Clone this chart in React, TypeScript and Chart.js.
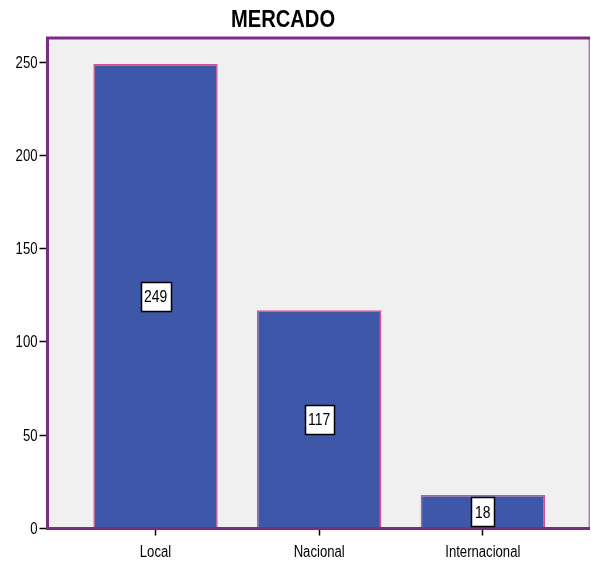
import React, { useEffect, useRef } from "react";
import { Chart, registerables } from "chart.js";

Chart.register(...registerables);

const categories = ["Local", "Nacional", "Internacional"];
const counts = [249, 117, 18];
const yTickValues = [0, 50, 100, 150, 200, 250];
const chartTitle = "MERCADO";

const FONT = '"Liberation Sans", Arial, sans-serif';
const NARROW = 0.82; // horizontal squeeze to get a narrow face
const BAR_FILL = "#3e57a8";
const BAR_EDGE = "#d4508e";
const FRAME = "#7d2a86";
const FRAME_RIGHT = "#b47dbd";
const PLOT_BG = "#f0f0f0";

function narrowText(ctx: CanvasRenderingContext2D, text: string, x: number, y: number, squeeze = NARROW) {
  ctx.save();
  ctx.translate(x, y);
  ctx.scale(squeeze, 1);
  ctx.fillText(text, 0, 0);
  ctx.restore();
}

// Plot background and the purple frame around it
const framePlugin = {
  id: "frame",
  beforeDatasetsDraw(chart: any) {
    const { ctx, chartArea: a } = chart;
    ctx.save();
    ctx.fillStyle = PLOT_BG;
    ctx.fillRect(a.left, a.top, a.right - a.left, a.bottom - a.top);
    ctx.restore();
  },
  afterDatasetsDraw(chart: any) {
    const { ctx, chartArea: a } = chart;
    ctx.save();
    ctx.strokeStyle = FRAME_RIGHT;
    ctx.lineWidth = 1.5;
    ctx.beginPath();
    ctx.moveTo(a.right - 0.75, a.top);
    ctx.lineTo(a.right - 0.75, a.bottom);
    ctx.stroke();
    ctx.strokeStyle = FRAME;
    ctx.lineWidth = 3;
    ctx.beginPath();
    ctx.moveTo(a.left, a.top);
    ctx.lineTo(a.right, a.top);
    ctx.moveTo(a.left, a.top - 1.5);
    ctx.lineTo(a.left, a.bottom + 1.5);
    ctx.moveTo(a.left, a.bottom);
    ctx.lineTo(a.right, a.bottom);
    ctx.stroke();
    ctx.restore();
  },
};

// Axis tick labels and the title, in a narrow sans face
const textPlugin = {
  id: "narrowText",
  afterDraw(chart: any) {
    const { ctx, chartArea: a } = chart;
    const xs = chart.scales.x;
    const ys = chart.scales.y;
    ctx.save();
    ctx.fillStyle = "#000000";

    ctx.font = `16px ${FONT}`;
    ctx.textAlign = "right";
    ctx.textBaseline = "middle";
    yTickValues.forEach((v) => {
      narrowText(ctx, String(v), a.left - 10, ys.getPixelForValue(v) + 1);
    });

    ctx.textAlign = "center";
    ctx.textBaseline = "alphabetic";
    categories.forEach((c, i) => {
      narrowText(ctx, c, xs.getPixelForValue(i), a.bottom + 28.5);
    });

    ctx.font = `bold 24px ${FONT}`;
    narrowText(ctx, chartTitle, 283, 27, 0.84);
    ctx.restore();
  },
};

// Boxed count label in the middle of each bar
const valueBoxPlugin = {
  id: "valueBoxes",
  afterDraw(chart: any) {
    const { ctx } = chart;
    const meta = chart.getDatasetMeta(0);
    ctx.save();
    ctx.font = `17px ${FONT}`;
    ctx.textAlign = "center";
    ctx.textBaseline = "middle";
    meta.data.forEach((bar: any, i: number) => {
      const text = String(counts[i]);
      const w = Math.round(ctx.measureText(text).width * NARROW + 7);
      const h = 29;
      const cx = bar.x;
      const cy = (bar.y + bar.base) / 2;
      const left = Math.round(cx - w / 2) + 0.5;
      const top = Math.round(cy - h / 2) + 0.5;
      ctx.fillStyle = "#ffffff";
      ctx.fillRect(left, top, w, h);
      ctx.strokeStyle = "#000000";
      ctx.lineWidth = 1.5;
      ctx.strokeRect(left, top, w, h);
      ctx.fillStyle = "#000000";
      narrowText(ctx, text, cx, cy + 1.5);
    });
    ctx.restore();
  },
};

export default function App() {
  const canvasRef = useRef<HTMLCanvasElement | null>(null);

  useEffect(() => {
    if (!canvasRef.current) return;
    const chart = new Chart(canvasRef.current, {
      type: "bar",
      data: {
        datasets: [
          {
            data: counts.map((v, i) => ({ x: i, y: v })),
            backgroundColor: BAR_FILL,
            borderColor: BAR_EDGE,
            borderWidth: 1.5,
            barPercentage: 1,
            categoryPercentage: 0.76,
          },
        ],
      },
      options: {
        responsive: false,
        animation: false,
        layout: { padding: { left: 39.5, right: 1, top: 38, bottom: 25.5 } },
        plugins: {
          legend: { display: false },
          title: { display: false },
          tooltip: { enabled: false },
        },
        scales: {
          x: {
            type: "linear",
            offset: false,
            min: -0.66,
            max: 2.655,
            afterBuildTicks: (scale: any) => {
              scale.ticks = categories.map((_, i) => ({ value: i }));
            },
            ticks: { display: false },
            grid: {
              offset: false,
              drawOnChartArea: false,
              drawTicks: true,
              tickLength: 7,
              tickColor: "#000000",
              tickWidth: 1.5,
            },
            border: { display: false },
          },
          y: {
            min: 0,
            max: 263,
            afterBuildTicks: (scale: any) => {
              scale.ticks = yTickValues.map((v) => ({ value: v }));
            },
            ticks: { display: false },
            grid: {
              drawOnChartArea: false,
              drawTicks: true,
              tickLength: 8,
              tickColor: "#000000",
              tickWidth: 1.5,
            },
            border: { display: false },
          },
        },
      },
      plugins: [framePlugin, textPlugin, valueBoxPlugin],
    });
    return () => chart.destroy();
  }, []);

  return (
    <div style={{ position: "absolute", left: 0, top: 0, width: 591, height: 561, background: "#ffffff" }}>
      <canvas ref={canvasRef} width={591} height={561} style={{ display: "block" }} />
    </div>
  );
}
